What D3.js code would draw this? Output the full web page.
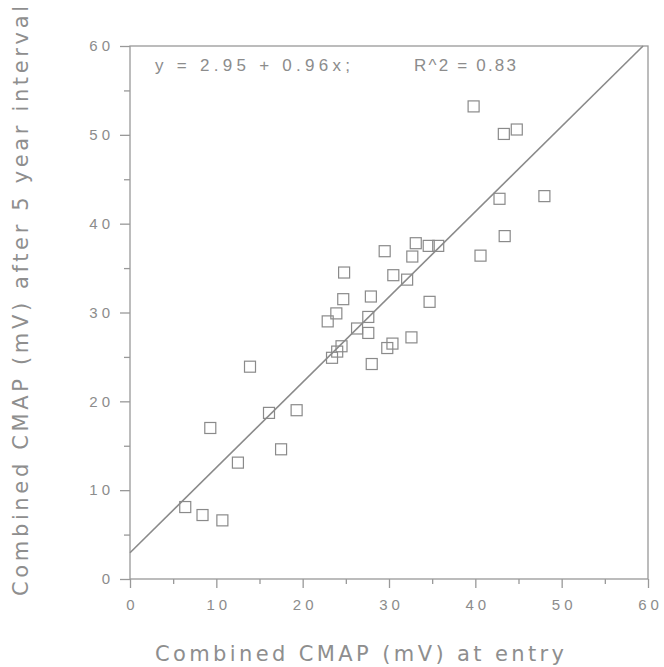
<!DOCTYPE html>
<html>
<head>
<meta charset="utf-8">
<script src="https://cdn.jsdelivr.net/npm/d3@7"></script>
<style>
  html, body { margin: 0; padding: 0; background: #fff; }
</style>
</head>
<body>
<div id="chart"></div>
<script>
// CMAP at entry (x) and after 5 years (y)
const entry = [6.4, 8.4, 10.7, 9.3, 12.5, 16.1, 17.5, 19.3,
  13.9, 29.5, 24.8, 30.5, 24.7, 27.9, 23.9, 22.9, 27.6, 26.3, 27.6, 24.5, 24.0, 23.4, 28.0, 29.8, 30.4,
  39.8, 43.3, 44.8, 42.8, 48.0, 43.4, 40.6, 33.1, 34.6, 35.7, 32.7, 32.1, 34.7, 32.6]
const after = [8.1, 7.2, 6.6, 17.0, 13.1, 18.7, 14.6, 19.0,
  23.9, 36.9, 34.5, 34.2, 31.5, 31.8, 29.9, 29.0, 29.5, 28.2, 27.7, 26.2, 25.6, 24.9, 24.2, 26.0, 26.5,
  53.2, 50.1, 50.6, 42.8, 43.1, 38.6, 36.4, 37.8, 37.5, 37.5, 36.3, 33.7, 31.2, 27.2]

const majorTicks = [0, 10, 20, 30, 40, 50, 60]
const minorTicks = [5, 15, 25, 35, 45, 55]
const fit = { intercept: 2.95, slope: 0.96 }
const eqText = 'y = 2.95 + 0.96x;'
const r2Text = 'R^2 = 0.83'
const xTitle = 'Combined CMAP (mV) at entry'
const yTitle = 'Combined CMAP (mV) after 5 year interval'

const width = 664,
      height = 667,
      plot = { left: 130, right: 648, top: 46, bottom: 579 },
      grey = '#999',
      boxSize = 11,
      font = 'Arial, "Liberation Sans", sans-serif',
      titleFont = '"DejaVu Sans", Verdana, sans-serif'

const svg = d3.select('#chart').append('svg')
  .attr('width', width)
  .attr('height', height)

const x = d3.scaleLinear().domain([0, 60]).range([plot.left, plot.right])
const y = d3.scaleLinear().domain([0, 60]).range([plot.bottom, plot.top])

// frame
svg.append('rect')
  .attr('x', plot.left)
  .attr('y', plot.top)
  .attr('width', plot.right - plot.left)
  .attr('height', plot.bottom - plot.top)
  .attr('fill', 'none')
  .attr('stroke', grey)
  .attr('stroke-width', 1.3)

// axes with major + minor ticks
const styleAxis = g => {
  g.attr('font-size', null).attr('font-family', null)
  g.select('.domain').remove()
  g.selectAll('line').attr('stroke', grey).attr('stroke-width', 1.3)
}
const styleLabels = dx => g => g.selectAll('text')
  .style('font-size', '15px')
  .style('font-family', font)
  .style('letter-spacing', '4px')
  .attr('dx', dx)
  .attr('fill', '#8c8c8c')

svg.append('g')
  .attr('transform', `translate(0,${plot.bottom})`)
  .call(d3.axisBottom(x).tickValues(minorTicks).tickSize(5).tickFormat(''))
  .call(styleAxis)

svg.append('g')
  .attr('transform', `translate(0,${plot.bottom})`)
  .call(d3.axisBottom(x).tickValues(majorTicks).tickSize(9).tickPadding(11).tickFormat(d3.format('d')))
  .call(styleAxis)
  .call(styleLabels(2))

svg.append('g')
  .attr('transform', `translate(${plot.left},0)`)
  .call(d3.axisLeft(y).tickValues(minorTicks).tickSize(6).tickFormat(''))
  .call(styleAxis)

svg.append('g')
  .attr('transform', `translate(${plot.left},0)`)
  .call(d3.axisLeft(y).tickValues(majorTicks).tickSize(10).tickPadding(10).tickFormat(d3.format('d')))
  .call(styleAxis)
  .call(styleLabels(4))

// regression line, stopped at the top of the frame
const xEnd = (60 - fit.intercept) / fit.slope
svg.append('line')
  .attr('x1', x(0))
  .attr('y1', y(fit.intercept))
  .attr('x2', x(xEnd))
  .attr('y2', y(60))
  .attr('stroke', '#8a8a8a')
  .attr('stroke-width', 1.6)

// open squares
svg.selectAll('rect.pt')
  .data(entry.map((d, i) => [d, after[i]]))
  .enter()
  .append('rect')
    .attr('class', 'pt')
    .attr('x', d => x(d[0]) - boxSize / 2)
    .attr('y', d => y(d[1]) - boxSize / 2)
    .attr('width', boxSize)
    .attr('height', boxSize)
    .attr('fill', 'none')
    .attr('stroke', '#8a8a8a')
    .attr('stroke-width', 1.2)

// text helper: fixed length, spacing stretched to fit
const label = (sel, str, size, len, family, fill) => sel
  .style('font-size', `${size}px`)
  .style('font-family', family)
  .attr('fill', fill)
  .attr('textLength', len)
  .attr('lengthAdjust', 'spacing')
  .text(str)

// equation
svg.append('text')
  .attr('x', 155)
  .attr('y', 71)
  .call(label, eqText, 17, 195, font, '#8c8c8c')

svg.append('text')
  .attr('x', 414)
  .attr('y', 71)
  .call(label, r2Text, 17, 102, font, '#8c8c8c')

// axis titles
svg.append('text')
  .attr('x', 155)
  .attr('y', 661)
  .call(label, xTitle, 21, 409, titleFont, '#8e8e8e')

svg.append('text')
  .attr('transform', 'translate(28,596) rotate(-90)')
  .call(label, yTitle, 21, 590, titleFont, '#8e8e8e')
</script>
</body>
</html>
